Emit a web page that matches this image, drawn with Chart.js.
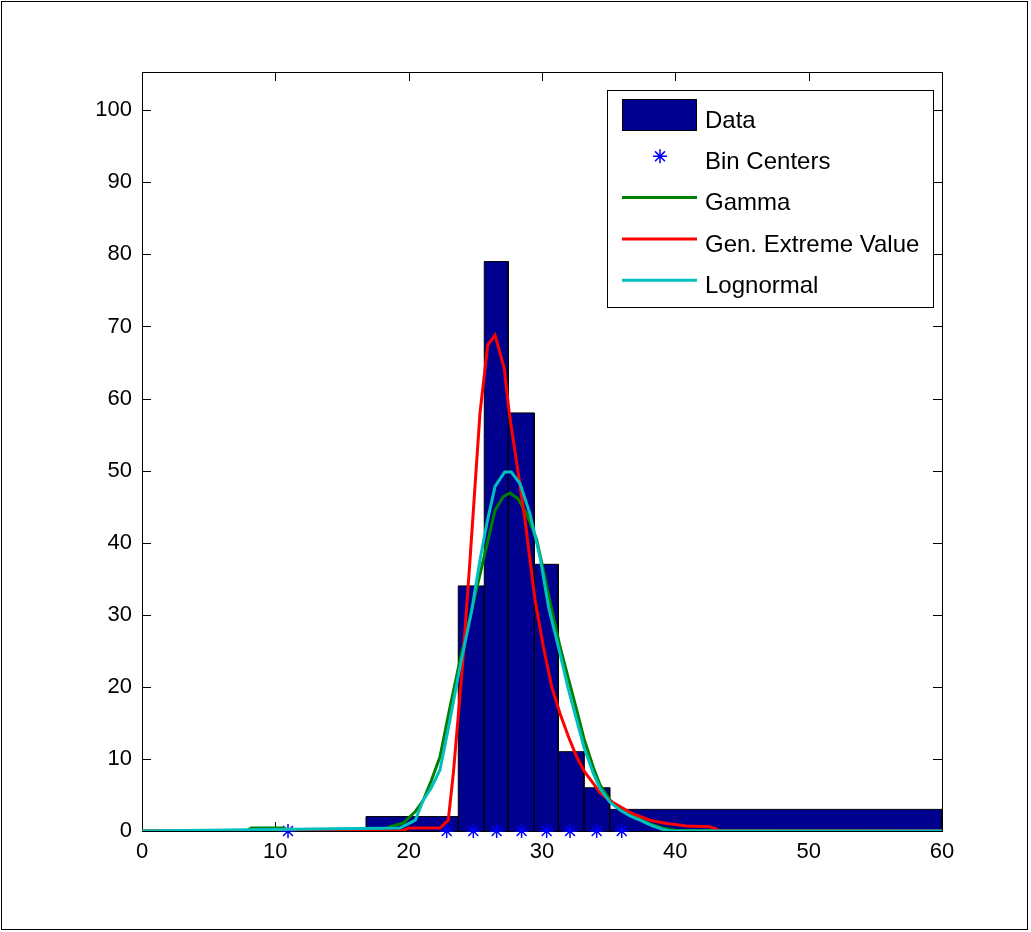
<!DOCTYPE html>
<html>
<head>
<meta charset="utf-8">
<script src="https://cdn.jsdelivr.net/npm/chart.js@4.4.1/dist/chart.umd.min.js"></script>
<style>
  html, body { margin: 0; padding: 0; background: #fff; }
  #wrap { position: relative; width: 1031px; height: 932px; }
  #frame { position: absolute; left: 1px; top: 1px; width: 1027px; height: 929px; border: 1px solid #000; box-sizing: border-box; pointer-events: none; }
  canvas { position: absolute; left: 0; top: 0; }
</style>
</head>
<body>
<div id="wrap">
  <canvas id="fitChart" width="1031" height="932"></canvas>
  <div id="frame"></div>
</div>
<script>
// histogram
const binEdges = [16.8, 23.72, 25.67, 27.47, 29.42, 31.22, 33.15, 35.08, 60];
const binCounts = [2, 34, 79, 58, 37, 11, 6, 3];
const binCenters = [10.95, 22.85, 24.85, 26.6, 28.47, 30.35, 32.1, 34.1, 35.98];

// fitted densities (scaled)
const gammaX = [0, 7.8, 8.2, 10.6, 11.0, 18.3, 18.6, 19.6, 20.5, 21.1, 21.7, 22.35, 23.1, 23.85, 24.85, 25.6, 26.1, 26.48, 27.1, 27.6, 28.2, 28.85, 29.6, 30.1, 30.7, 31.35, 32.0, 32.6, 33.15, 33.85, 34.35, 35.1, 35.85, 36.6, 37.35, 38.2, 39.1, 40.0, 60];
const gammaY = [0, 0, 0.4, 0.4, 0.1, 0.3, 0.6, 1.1, 2.7, 4.3, 7.0, 10.3, 17.2, 23.7, 31.6, 37.6, 41.5, 44.5, 46.4, 46.9, 46.1, 44.0, 40.4, 36.2, 31.0, 25.6, 21.0, 16.8, 12.8, 8.8, 6.4, 4.3, 3.0, 2.2, 1.6, 0.9, 0.4, 0.1, 0];

const gevX = [0, 19.5, 20.0, 22.35, 22.97, 23.35, 24.0, 24.6, 25.35, 25.93, 26.48, 27.17, 27.55, 28.15, 28.73, 29.1, 29.48, 30.1, 30.73, 31.35, 32.0, 32.6, 33.2, 33.85, 34.35, 35.1, 35.85, 36.8, 38.1, 39.35, 40.85, 42.6, 43.4, 60];
const gevY = [0, 0, 0.4, 0.4, 1.5, 8, 22, 37.6, 58, 67.4, 68.8, 64.2, 57.9, 50.5, 43.1, 37.6, 32, 25.6, 20, 16.3, 13, 10.3, 8.2, 6.6, 5.3, 4.2, 3.4, 2.4, 1.5, 1.05, 0.7, 0.6, 0, 0];

const lognX = [0, 19.35, 20.5, 21.1, 21.7, 22.35, 23.1, 23.85, 24.73, 25.35, 25.9, 26.48, 27.2, 27.7, 28.35, 29.1, 29.85, 30.5, 31.35, 32.0, 32.6, 33.15, 33.85, 34.35, 35.1, 35.85, 36.6, 37.35, 38.2, 39.1, 39.6, 60];
const lognY = [0, 0.4, 1.5, 4.3, 6.0, 8.5, 15.4, 22.8, 30.6, 37.6, 43.0, 47.8, 49.8, 49.8, 48.2, 44.0, 38.0, 31.0, 24.6, 19.5, 15.4, 11.6, 8.0, 5.9, 4.0, 2.9, 2.1, 1.5, 0.8, 0.2, 0, 0];

const xTicks = [0, 10, 20, 30, 40, 50, 60];
const yTicks = [0, 10, 20, 30, 40, 50, 60, 70, 80, 90, 100];

const FONT = '"Liberation Sans", Arial, sans-serif';

function toPoints(xs, ys) {
  return xs.map((x, i) => ({ x, y: ys[i] }));
}

// outline of the bars: (left,0) (left,h) (right,h) (right,0) for each bin
function barOutline(edges, counts) {
  const pts = [];
  counts.forEach((h, i) => {
    pts.push({ x: edges[i], y: 0 }, { x: edges[i], y: h }, { x: edges[i + 1], y: h }, { x: edges[i + 1], y: 0 });
  });
  return pts;
}

// box + inward ticks, drawn under the data like matlab
const axesBox = {
  id: "axesBox",
  beforeDatasetsDraw(chart) {
    const { ctx, chartArea: a, scales: { x, y } } = chart;
    const t = 9;
    ctx.save();
    ctx.strokeStyle = "#000";
    ctx.lineWidth = 1;
    ctx.beginPath();
    xTicks.forEach(v => {
      const px = Math.round(x.getPixelForValue(v)) + 0.5;
      ctx.moveTo(px, a.bottom); ctx.lineTo(px, a.bottom - t);
      ctx.moveTo(px, a.top); ctx.lineTo(px, a.top + t);
    });
    yTicks.forEach(v => {
      const py = Math.round(y.getPixelForValue(v)) + 0.5;
      ctx.moveTo(a.left, py); ctx.lineTo(a.left + t, py);
      ctx.moveTo(a.right, py); ctx.lineTo(a.right - t, py);
    });
    ctx.stroke();
    ctx.strokeRect(Math.round(a.left) + 0.5, Math.round(a.top) + 0.5, Math.round(a.right - a.left), Math.round(a.bottom - a.top));
    ctx.restore();
  }
};

// matlab style legend box in the upper right
const boxLegend = {
  id: "boxLegend",
  afterDraw(chart) {
    const ctx = chart.ctx;
    const ds = chart.data.datasets;
    const L = 607.5, T = 90.5, W = 326, H = 217;
    ctx.save();
    ctx.fillStyle = "#fff";
    ctx.fillRect(L, T, W, H);
    ctx.strokeStyle = "#000";
    ctx.lineWidth = 1;
    ctx.strokeRect(L, T, W, H);
    ds.forEach((d, i) => {
      const yy = 115 + i * 41.3;
      if (i === 0) {
        ctx.fillStyle = d.backgroundColor;
        ctx.fillRect(622.5, yy - 15.5, 74, 31);
        ctx.strokeStyle = "#000";
        ctx.lineWidth = 1;
        ctx.strokeRect(622.5, yy - 15.5, 74, 31);
      } else if (i === 1) {
        const r = 7, cx = 660, cy = yy;
        ctx.strokeStyle = d.pointBorderColor;
        ctx.lineWidth = 1.5;
        ctx.beginPath();
        ctx.moveTo(cx - r, cy); ctx.lineTo(cx + r, cy);
        ctx.moveTo(cx, cy - r); ctx.lineTo(cx, cy + r);
        const k = r * 0.707;
        ctx.moveTo(cx - k, cy - k); ctx.lineTo(cx + k, cy + k);
        ctx.moveTo(cx - k, cy + k); ctx.lineTo(cx + k, cy - k);
        ctx.stroke();
      } else {
        ctx.strokeStyle = d.borderColor;
        ctx.lineWidth = 3;
        ctx.beginPath();
        ctx.moveTo(622, yy); ctx.lineTo(697, yy);
        ctx.stroke();
      }
      ctx.fillStyle = "#000";
      ctx.font = "24px " + FONT;
      ctx.textBaseline = "middle";
      ctx.textAlign = "left";
      ctx.fillText(d.label, 705, yy + 6);
    });
    ctx.restore();
  }
};

new Chart(document.getElementById("fitChart"), {
  type: "line",
  data: {
    datasets: [
      {
        label: "Data",
        data: barOutline(binEdges, binCounts),
        backgroundColor: "#00008f",
        borderColor: "#000",
        borderWidth: 1,
        fill: "origin",
        pointRadius: 0,
        tension: 0,
        order: 5
      },
      {
        label: "Bin Centers",
        data: binCenters.map(x => ({ x, y: 0 })),
        showLine: false,
        pointStyle: "star",
        pointRadius: 7,
        pointBorderWidth: 1.5,
        pointBorderColor: "#0000ff",
        pointBackgroundColor: "#0000ff",
        clip: false,
        order: 4
      },
      {
        label: "Gamma",
        data: toPoints(gammaX, gammaY),
        borderColor: "#008000",
        borderWidth: 3,
        pointRadius: 0,
        tension: 0,
        fill: false,
        order: 3
      },
      {
        label: "Gen. Extreme Value",
        data: toPoints(gevX, gevY),
        borderColor: "#ff0000",
        borderWidth: 3,
        pointRadius: 0,
        tension: 0,
        fill: false,
        order: 2
      },
      {
        label: "Lognormal",
        data: toPoints(lognX, lognY),
        borderColor: "#00bfbf",
        borderWidth: 3,
        pointRadius: 0,
        tension: 0,
        fill: false,
        order: 1
      }
    ]
  },
  options: {
    responsive: false,
    animation: false,
    layout: { padding: { top: 72, right: 89, bottom: 0, left: 0 } },
    plugins: {
      legend: { display: false },
      tooltip: { enabled: false }
    },
    scales: {
      x: {
        type: "linear",
        min: 0,
        max: 60,
        afterBuildTicks: s => { s.ticks = xTicks.map(v => ({ value: v })); },
        afterFit: s => { s.height = 101; },
        grid: { display: false, drawTicks: false },
        border: { display: false },
        ticks: { color: "#000", padding: 8, maxRotation: 0, font: { family: FONT, size: 22 } }
      },
      y: {
        min: 0,
        max: 105.3,
        afterBuildTicks: s => { s.ticks = yTicks.map(v => ({ value: v })); },
        afterFit: s => { s.width = 142; },
        grid: { display: false, drawTicks: false },
        border: { display: false },
        ticks: { color: "#000", padding: 10, font: { family: FONT, size: 22 } }
      }
    }
  },
  plugins: [axesBox, boxLegend]
});
</script>
</body>
</html>
